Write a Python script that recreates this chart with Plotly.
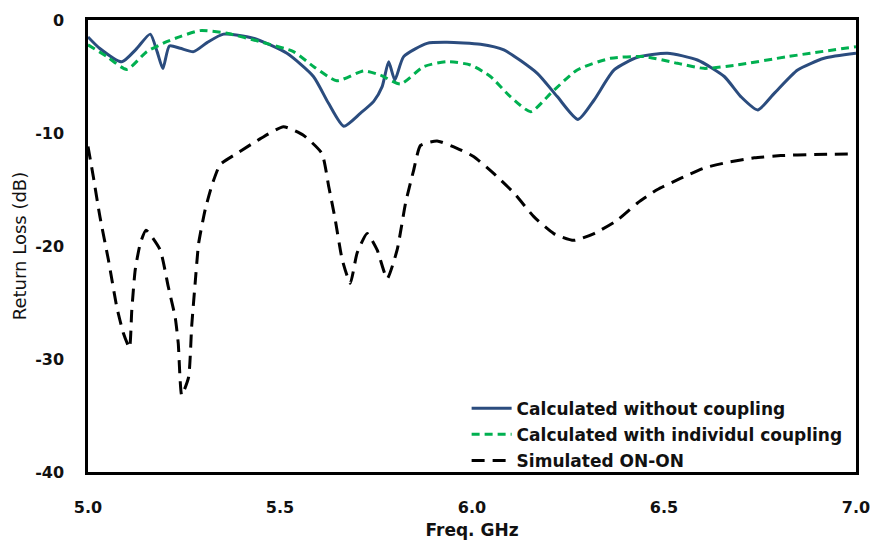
import plotly.graph_objects as go

# Calculated without coupling
f_blue = [5.0, 5.03, 5.088, 5.125, 5.162, 5.18, 5.195, 5.212, 5.24, 5.275, 5.31, 5.353, 5.43, 5.518,
          5.587, 5.626, 5.666, 5.709, 5.744, 5.766, 5.783, 5.799, 5.822, 5.883, 5.935, 6.022, 6.083,
          6.17, 6.222, 6.276, 6.318, 6.37, 6.431, 6.509, 6.587, 6.657, 6.7, 6.744, 6.787, 6.848, 6.917, 7.0]
rl_blue = [-1.5, -2.5, -3.7, -2.6, -1.25, -2.8, -4.3, -2.3, -2.5, -2.8, -2.0, -1.25, -1.6, -2.95,
           -5.0, -7.35, -9.4, -8.26, -7.2, -5.9, -3.7, -5.3, -3.24, -2.07, -1.98, -2.15, -2.65,
           -4.72, -6.78, -8.8, -7.08, -4.42, -3.3, -2.95, -3.54, -5.0, -6.78, -7.96, -6.49, -4.42, -3.39, -2.95]

# Calculated with individual coupling
f_green = [5.0, 5.049, 5.101, 5.153, 5.205, 5.24, 5.292, 5.362, 5.448, 5.535, 5.588, 5.648, 5.718,
           5.761, 5.814, 5.874, 5.935, 5.996, 6.048, 6.1, 6.153, 6.205, 6.274, 6.361, 6.448, 6.535,
           6.604, 6.691, 6.822, 7.0]
rl_green = [-2.2, -3.24, -4.37, -2.8, -1.92, -1.47, -0.94, -1.18, -1.92, -2.8, -4.13, -5.37, -4.51,
            -4.87, -5.66, -4.13, -3.69, -3.98, -5.0, -6.78, -8.11, -6.49, -4.42, -3.39, -3.24, -3.83,
            -4.28, -3.98, -3.24, -2.36]

# Simulated ON-ON
f_black = [5.0, 5.014, 5.031, 5.053, 5.075, 5.092, 5.108, 5.114, 5.123, 5.136, 5.151, 5.188, 5.209,
           5.227, 5.235, 5.244, 5.262, 5.27, 5.279, 5.288, 5.305, 5.323, 5.344, 5.388, 5.449, 5.509,
           5.561, 5.609, 5.627, 5.644, 5.662, 5.683, 5.701, 5.727, 5.753, 5.779, 5.805, 5.827, 5.848,
           5.866, 5.909, 5.961, 6.005, 6.057, 6.109, 6.161, 6.213, 6.265, 6.318, 6.379, 6.431, 6.483,
           6.544, 6.604, 6.665, 6.735, 6.804, 6.891, 7.0]
rl_black = [-11.2, -13.9, -17.4, -21.2, -25.4, -27.7, -29.0, -25.7, -22.1, -19.8, -18.6, -20.35, -23.6,
            -26.3, -28.6, -33.2, -31.6, -27.1, -23.3, -19.8, -16.8, -14.6, -12.8, -11.8, -10.5, -9.44,
            -10.2, -11.8, -14.75, -17.7, -21.2, -23.3, -20.6, -18.9, -20.35, -22.9, -20.35, -16.2, -13.3,
            -11.1, -10.7, -11.35, -12.1, -13.6, -15.3, -17.4, -18.9, -19.5, -18.9, -17.7, -16.2, -15.0,
            -14.0, -13.1, -12.6, -12.2, -12.0, -11.9, -11.85]

x_ticks = [5.0, 5.5, 6.0, 6.5, 7.0]
y_ticks = [0, -10, -20, -30, -40]

FONT = "DejaVu Sans"

fig = go.Figure()
fig.add_trace(go.Scatter(x=f_blue, y=rl_blue, mode="lines", name="Calculated without coupling",
                         legendgroup="a",
                         line=dict(color="#2B4C7E", width=3, shape="spline", smoothing=0.6)))
fig.add_trace(go.Scatter(x=f_green, y=rl_green, mode="lines", name="Calculated with individul coupling",
                         legendgroup="b",
                         line=dict(color="#00B050", width=3, dash="8px,5px", shape="spline", smoothing=0.6)))
fig.add_trace(go.Scatter(x=f_black, y=rl_black, mode="lines", name="Simulated ON-ON",
                         legendgroup="c",
                         line=dict(color="#000000", width=3, dash="13px,8px", shape="spline", smoothing=0.5)))

fig.update_layout(
    width=874, height=541,
    margin=dict(l=88, r=18, t=20, b=69, autoexpand=False),
    paper_bgcolor="white", plot_bgcolor="white",
    font=dict(family=FONT, size=16, color="#111"),
    showlegend=True,
    legend=dict(x=0.493, y=0.18, xanchor="left", yanchor="top",
                bgcolor="rgba(0,0,0,0)", font=dict(family=FONT, size=17, color="#111", weight="bold"),
                tracegroupgap=1, itemwidth=40),
)
fig.update_xaxes(range=[5.0, 7.0], tickvals=x_ticks, ticktext=[f"{v:.1f}" for v in x_ticks],
                 showgrid=False, zeroline=False, showline=True, mirror=True, automargin=False,
                 linecolor="black", linewidth=2.5, ticks="", ticklabelstandoff=19,
                 tickfont=dict(family=FONT, size=16, color="#111", weight="bold"),
                 title=dict(text="Freq. GHz", font=dict(family=FONT, size=17, color="#111", weight="bold"),
                            standoff=9))
fig.update_yaxes(range=[-40, 0], tickvals=y_ticks, ticktext=[str(v) for v in y_ticks],
                 showgrid=False, zeroline=False, showline=True, mirror=True, automargin=False,
                 linecolor="black", linewidth=2.5, ticks="", ticklabelstandoff=18,
                 tickfont=dict(family=FONT, size=16, color="#111", weight="bold"),
                 title=dict(text="Return Loss (dB)", font=dict(family=FONT, size=18, color="#111"),
                            standoff=4))

# remove the browser's default 8px body margin so the 874x541 figure fills the window exactly
fig.write_html("out.html", config={"displayModeBar": False},
               post_script="document.body.style.margin='0px';document.body.style.overflow='hidden';")
